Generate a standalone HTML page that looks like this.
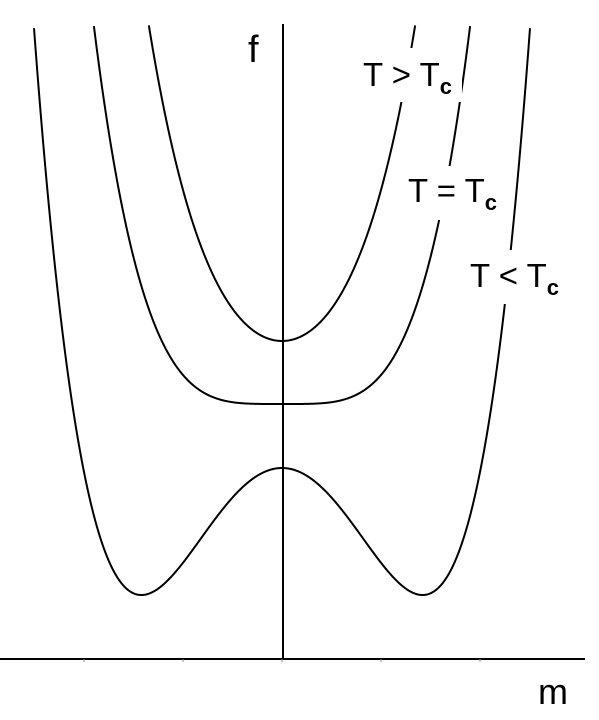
<!DOCTYPE html>
<html><head><meta charset="utf-8"><style>
html,body{margin:0;padding:0;background:#fff;}
svg{display:block;font-family:"Liberation Sans",Arial,sans-serif;}
</style></head><body>
<svg id="chart" width="599" height="720" viewBox="0 0 599 720">
<g id="curves"></g>
<line x1="0" y1="659" x2="585" y2="659" stroke="#000" stroke-width="2"/>
<line x1="283" y1="24" x2="283" y2="659" stroke="#000" stroke-width="2"/>
<g id="ticks"></g>
<text x="248" y="62" font-size="38">f</text>
<text x="538" y="704" font-size="36">m</text>
<g>
<rect x="358" y="48" width="104" height="54" fill="#fff"/>
<text x="363" y="86" font-size="33">T &gt; T<tspan font-size="22" font-weight="bold" dy="8">c</tspan></text></g>
<g>
<rect x="404" y="166" width="102" height="54" fill="#fff"/>
<text x="408" y="202" font-size="33">T = T<tspan font-size="22" font-weight="bold" dy="8">c</tspan></text></g>
<g>
<rect x="466" y="250" width="102" height="54" fill="#fff"/>
<text x="470" y="287" font-size="33">T &lt; T<tspan font-size="22" font-weight="bold" dy="8">c</tspan></text></g>
</svg>
<script>
const curveNames = ["curve-t-above-tc","curve-t-equals-tc","curve-t-below-tc"];
const offsetF = [3.18, 2.55, 1.91];
const quadCoef = [1.22, 0, -1.26];
const quartCoef = [0.29, 0.29, 0.3125];
const tickValues = [-2,-1,0,1,2];
const xs = m => 282 + m*99;
const ys = f => 659 - f*100;
const NS = "http://www.w3.org/2000/svg";
const cg = document.getElementById("curves");
curveNames.forEach((name,i)=>{
  let d = "", started=false;
  for(let m=-2.8;m<=2.8001;m+=0.005){
    const f = offsetF[i] + quadCoef[i]*m*m + quartCoef[i]*m*m*m*m;
    const y = ys(f);
    if(y < 24){ started=false; continue; }
    d += (started?"L":"M") + xs(m).toFixed(2)+","+y.toFixed(2);
    started=true;
  }
  const p = document.createElementNS(NS,"path");
  p.setAttribute("d", d);
  p.setAttribute("fill","none");
  p.setAttribute("stroke","#000");
  p.setAttribute("stroke-width","2");
  
  
  cg.appendChild(p);
});
const tg = document.getElementById("ticks");
tickValues.forEach(v=>{
  const l = document.createElementNS(NS,"line");
  l.setAttribute("x1", xs(v)); l.setAttribute("x2", xs(v));
  l.setAttribute("y1", 659); l.setAttribute("y2", 662);
  l.setAttribute("stroke","#888"); l.setAttribute("stroke-width","1");
  
  
  tg.appendChild(l);
});
</script>
</body></html>
